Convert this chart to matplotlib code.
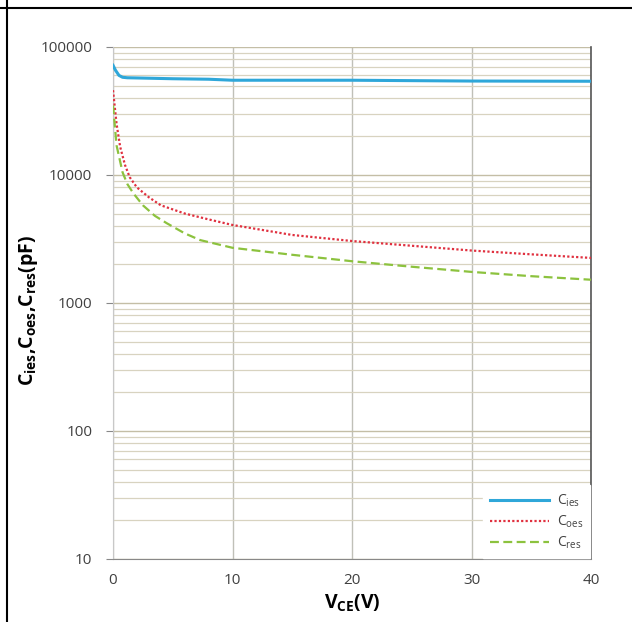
import matplotlib
matplotlib.use('Agg')
import matplotlib.pyplot as plt
from matplotlib.lines import Line2D

plt.rcParams['font.family'] = ['Open Sans', 'DejaVu Sans']
plt.rcParams['mathtext.fontset'] = 'custom'
plt.rcParams['mathtext.rm'] = 'Open Sans'
plt.rcParams['mathtext.it'] = 'Open Sans'
plt.rcParams['mathtext.bf'] = 'Open Sans:bold'

# data
v_ies = [0, 0.2, 0.5, 0.8, 1.2, 2, 5, 8, 10, 20, 30, 40]
c_ies = [72000, 66000, 60000, 58000, 57500, 57300, 56500, 56000, 55000, 55000, 54200, 54000]

v_oes = [0, 0.3, 0.6, 1, 1.4, 2, 3, 4, 6, 8, 10, 15, 20, 25, 30, 35, 40]
c_oes = [46000, 25000, 16600, 12000, 9600, 8000, 6700, 5800, 5000, 4500, 4070,
         3400, 3050, 2800, 2570, 2400, 2250]

v_res = [0, 0.3, 0.8, 1.2, 1.7, 2.5, 3.5, 4.5, 6, 7.3, 10, 15, 20, 25, 30, 35, 40]
c_res = [35000, 17000, 10500, 8500, 7200, 5800, 4800, 4200, 3500, 3100, 2700,
         2380, 2120, 1920, 1750, 1620, 1520]

x_ticks = [0, 10, 20, 30, 40]
y_ticks = [10, 100, 1000, 10000, 100000]

fig = plt.figure(figsize=(6.32, 6.22), dpi=100)
ax = fig.add_axes([113 / 632, 63 / 622, 478 / 632, 512 / 622])

ax.plot(v_ies, c_ies, color='#2fa7d9', lw=2.2, label=r'C$_{ies}$', zorder=3)
ax.plot(v_oes, c_oes, color='#e0303f', lw=1.6, ls=(0, (1, 1)), label=r'C$_{oes}$', zorder=3)
ax.plot(v_res, c_res, color='#8cc23e', lw=1.6, ls=(0, (4, 2)), label=r'C$_{res}$', zorder=3)

ax.set_yscale('log')
ax.set_xlim(0, 40)
ax.set_ylim(10, 100000)
ax.set_xticks(x_ticks)
ax.set_xticklabels([str(t) for t in x_ticks])
ax.set_yticks(y_ticks)
ax.set_yticklabels([str(t) for t in y_ticks])
ax.yaxis.set_minor_formatter(plt.NullFormatter())

ax.grid(True, which='major', axis='y', color='#c4bea6', lw=1.0)
ax.grid(True, which='minor', axis='y', color='#d8d3c0', lw=0.9)
ax.grid(True, which='major', axis='x', color='#c0c0b8', lw=1.0)

ax.tick_params(axis='y', which='major', length=5, width=0.8, color='#888888', pad=10,
               labelsize=11, labelcolor='#404040')
ax.tick_params(axis='y', which='minor', length=0)
ax.tick_params(axis='x', which='major', length=0, pad=10, labelsize=11, labelcolor='#404040')

ax.spines['top'].set_visible(False)
ax.spines['left'].set_color('#c8c8c8')
ax.spines['bottom'].set_color('#888888')
ax.spines['right'].set_color('#555555')
ax.spines['right'].set_linewidth(1.2)

ax.set_xlabel(r'V$_{\mathbf{CE}}$(V)', fontsize=14, fontweight='bold', labelpad=3)
ax.set_ylabel(r'C$_{\mathbf{ies}}$,C$_{\mathbf{oes}}$,C$_{\mathbf{res}}$(pF)',
              fontsize=14, fontweight='bold')
ax.yaxis.set_label_coords((40 - 113) / 478, 0.486)

leg = ax.legend(loc='lower right', frameon=True, fancybox=False, fontsize=10,
                handlelength=4.2, handletextpad=0.6, borderaxespad=0.05,
                borderpad=0.5, labelspacing=0.35)
leg.get_frame().set_edgecolor('white')
leg.get_frame().set_facecolor('white')
leg.get_frame().set_alpha(1)
for t in leg.get_texts():
    t.set_color('#404040')

# cell border lines
fig.add_artist(Line2D([0, 1], [1 - 8 / 622, 1 - 8 / 622], color='black', lw=1.5))
fig.add_artist(Line2D([7 / 632, 7 / 632], [0, 1], color='black', lw=1.5))

fig.savefig('out.png', dpi=100)
